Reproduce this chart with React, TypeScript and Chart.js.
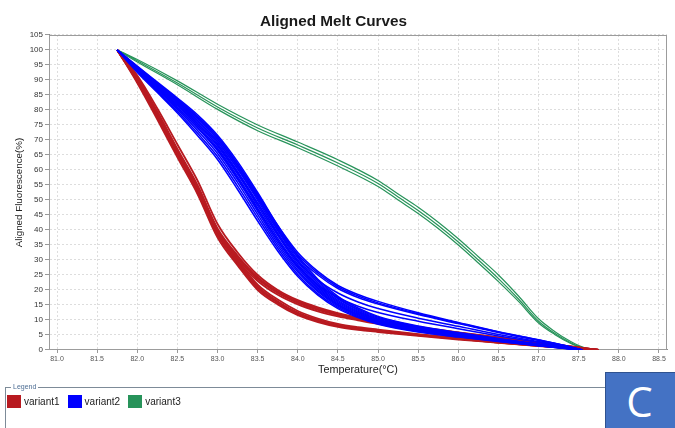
import React, { useEffect, useRef } from "react";
import { Chart, registerables } from "chart.js";

Chart.register(...registerables);

const chartTitle = "Aligned Melt Curves";
const xTitle = "Temperature(°C)";
const yTitle = "Aligned Fluorescence(%)";
const seriesNames = ["variant1", "variant2", "variant3"];
const seriesColors = ["#B81A20", "#0000FF", "#27935A"];

const xMin = 80.9;
const xMax = 88.6;
const xStep = 0.5;
const yMin = 0;
const yMax = 105;
const yStep = 5;

// variant1 (red)
const variant1Temps = [81.75, 82.0, 82.25, 82.5, 82.75, 83.0, 83.25, 83.5, 83.75, 84.0, 84.25, 84.5, 84.75, 85.0, 85.5, 86.0, 86.5, 87.0, 87.5, 87.75];
const variant1Curves = [
  [100, 91.5, 80.5, 68.5, 56.5, 42.0, 32.5, 25.0, 20.0, 16.6, 14.2, 12.3, 10.8, 9.6, 7.7, 5.9, 4.2, 2.5, 0.9, 0],
  [100, 91.0, 79.5, 67.0, 55.0, 40.5, 31.5, 24.3, 19.5, 16.2, 13.8, 12.0, 10.5, 9.3, 7.5, 5.8, 4.1, 2.4, 0.9, 0],
  [100, 90.5, 79.0, 66.5, 54.5, 40.0, 31.0, 24.0, 19.2, 15.9, 13.6, 11.8, 10.3, 9.1, 7.3, 5.7, 4.0, 2.3, 0.8, 0],
  [100, 90.0, 78.5, 66.0, 54.0, 39.5, 30.5, 23.6, 19.0, 15.7, 13.4, 11.6, 10.2, 9.0, 7.2, 5.6, 3.9, 2.3, 0.8, 0],
  [100, 89.5, 77.5, 65.0, 52.5, 38.5, 29.8, 23.0, 18.4, 15.2, 12.9, 11.2, 9.9, 8.7, 7.0, 5.4, 3.8, 2.2, 0.8, 0],
  [100, 90.5, 79.0, 66.5, 54.5, 40.0, 30.0, 21.8, 16.8, 13.0, 10.5, 8.7, 7.6, 6.8, 5.3, 4.0, 2.8, 1.6, 0.6, 0],
  [100, 90.0, 78.5, 65.8, 53.8, 39.2, 29.4, 21.2, 16.2, 12.5, 10.1, 8.3, 7.3, 6.5, 5.1, 3.8, 2.6, 1.5, 0.5, 0],
  [100, 89.8, 78.0, 65.4, 53.4, 38.8, 29.1, 20.9, 16.0, 12.2, 9.9, 8.1, 7.1, 6.3, 5.0, 3.7, 2.5, 1.4, 0.5, 0],
  [100, 89.5, 77.5, 65.0, 53.0, 38.4, 28.8, 20.6, 15.7, 12.0, 9.7, 8.0, 7.0, 6.2, 4.9, 3.7, 2.5, 1.4, 0.5, 0],
  [100, 89.0, 76.8, 64.2, 52.0, 37.5, 28.2, 20.0, 15.2, 11.6, 9.3, 7.7, 6.7, 6.0, 4.7, 3.5, 2.4, 1.3, 0.4, 0],
];

// variant2 (blue)
const variant2Temps = [81.75, 82.0, 82.25, 82.5, 82.75, 83.0, 83.25, 83.5, 83.75, 84.0, 84.25, 84.5, 84.75, 85.0, 85.5, 86.0, 86.5, 87.0, 87.3, 87.55];
const variant2Curves = [
  [100, 92.5, 85.8, 79.0, 71.5, 63.5, 53.5, 43.0, 33.0, 24.5, 18.3, 13.8, 10.8, 8.6, 6.0, 4.3, 2.8, 1.4, 0.6, 0],
  [100, 92.8, 86.2, 79.6, 72.3, 64.5, 54.6, 44.1, 33.9, 25.2, 18.8, 14.2, 11.1, 8.8, 6.2, 4.4, 2.9, 1.4, 0.6, 0],
  [100, 93.0, 86.6, 80.2, 73.2, 65.5, 55.8, 45.2, 34.8, 26.0, 19.4, 14.6, 11.4, 9.1, 6.4, 4.6, 3.0, 1.5, 0.7, 0],
  [100, 93.2, 87.0, 80.7, 74.0, 66.4, 56.8, 46.2, 35.6, 26.6, 19.8, 15.0, 11.7, 9.3, 6.6, 4.7, 3.1, 1.5, 0.7, 0],
  [100, 93.5, 87.4, 81.3, 74.8, 67.3, 57.8, 47.3, 36.5, 27.3, 20.3, 15.3, 12.0, 9.6, 6.8, 4.9, 3.2, 1.6, 0.7, 0],
  [100, 93.6, 87.7, 81.7, 75.4, 68.0, 58.6, 48.1, 37.3, 28.0, 20.8, 15.7, 12.3, 9.8, 7.0, 5.0, 3.3, 1.7, 0.7, 0],
  [100, 93.8, 88.0, 82.2, 76.0, 68.8, 59.5, 49.0, 38.2, 28.6, 21.3, 16.1, 12.6, 10.1, 7.2, 5.2, 3.4, 1.8, 0.8, 0],
  [100, 94.0, 88.3, 82.7, 76.6, 69.5, 60.4, 49.9, 39.0, 29.3, 21.8, 16.5, 12.9, 10.3, 7.4, 5.3, 3.5, 1.8, 0.8, 0],
  [100, 94.2, 88.7, 83.2, 77.3, 70.3, 61.3, 50.8, 39.8, 30.0, 22.4, 17.0, 13.3, 10.6, 7.6, 5.5, 3.6, 1.9, 0.8, 0],
  [100, 94.4, 89.0, 83.6, 77.8, 71.0, 62.0, 51.6, 40.6, 30.7, 23.0, 17.4, 13.6, 10.9, 7.8, 5.6, 3.7, 1.9, 0.8, 0],
  [100, 94.6, 89.3, 84.0, 78.4, 71.6, 62.8, 52.5, 41.5, 31.5, 23.6, 17.9, 14.0, 11.2, 8.0, 5.8, 3.8, 2.0, 0.9, 0],
  [100, 94.0, 88.3, 82.6, 76.5, 69.5, 60.5, 50.5, 40.0, 31.0, 25.0, 20.5, 17.5, 15.3, 11.8, 8.8, 5.8, 3.2, 1.6, 0],
  [100, 94.2, 88.6, 83.1, 77.2, 70.2, 61.2, 51.2, 40.8, 31.8, 25.6, 21.0, 18.0, 15.7, 12.1, 9.0, 6.0, 3.3, 1.6, 0],
  [100, 94.4, 89.0, 83.6, 77.8, 71.0, 62.0, 52.0, 41.5, 32.5, 26.2, 21.5, 18.5, 16.2, 12.4, 9.2, 6.1, 3.4, 1.7, 0],
  [100, 93.6, 87.7, 81.8, 75.5, 68.3, 59.0, 48.8, 38.5, 29.5, 23.3, 19.0, 16.0, 13.8, 10.6, 7.9, 5.2, 2.8, 1.4, 0],
  [100, 93.2, 87.0, 80.8, 74.3, 66.8, 57.2, 46.8, 36.5, 27.8, 21.7, 17.5, 14.6, 12.5, 9.6, 7.1, 4.7, 2.5, 1.2, 0],
];

// variant3 (green)
const variant3Temps = [81.75, 82.0, 82.5, 83.0, 83.5, 84.0, 84.5, 85.0, 85.25, 85.5, 85.75, 86.0, 86.25, 86.5, 86.75, 87.0, 87.2, 87.4, 87.5, 87.65];
const variant3Curves = [
  [100, 96.8, 89.7, 81.9, 75.0, 69.3, 63.4, 56.5, 52.0, 47.6, 42.6, 37.1, 31.1, 25.0, 18.0, 10.4, 6.2, 2.8, 1.5, 0],
  [100, 96.4, 89.0, 81.0, 74.0, 68.3, 62.3, 55.5, 51.0, 46.5, 41.5, 36.0, 30.0, 23.8, 17.0, 9.6, 5.6, 2.4, 1.2, 0],
  [100, 96.0, 88.4, 80.2, 73.1, 67.4, 61.3, 54.5, 50.0, 45.5, 40.5, 35.0, 29.0, 22.8, 16.2, 9.0, 5.2, 2.2, 1.1, 0],
];

const FONT = "'Liberation Sans', Arial, sans-serif";

function makeSets(temps: number[], curves: number[][], name: string, color: string, width: number) {
  return curves.map((c) => ({
    label: name,
    data: temps.map((t, i) => ({ x: t, y: c[i] })),
    borderColor: color,
    backgroundColor: color,
    borderWidth: width,
    pointRadius: 0,
    fill: false,
    cubicInterpolationMode: "monotone" as const,
  }));
}

const framePlugin = {
  id: "plotFrame",
  beforeDatasetsDraw(chart: any) {
    const { ctx, chartArea: a } = chart;
    ctx.save();
    ctx.strokeStyle = "#9c9c9c";
    ctx.lineWidth = 1;
    ctx.strokeRect(Math.round(a.left) + 0.5, Math.round(a.top) + 0.5, Math.round(a.width) - 1, Math.round(a.height) - 1);
    ctx.restore();
  },
};

export default function App() {
  const ref = useRef<HTMLCanvasElement>(null);

  useEffect(() => {
    document.body.style.margin = "0";
    const canvas = ref.current;
    if (!canvas) return;
    const datasets = [
      ...makeSets(variant2Temps, variant2Curves, seriesNames[1], seriesColors[1], 1.5),
      ...makeSets(variant1Temps, variant1Curves, seriesNames[0], seriesColors[0], 1.8),
      ...makeSets(variant3Temps, variant3Curves, seriesNames[2], seriesColors[2], 1.2),
    ];
    const chart = new Chart(canvas, {
      type: "line",
      data: { datasets },
      plugins: [framePlugin],
      options: {
        responsive: true,
        maintainAspectRatio: false,
        animation: false,
        layout: { padding: { left: 0, right: 8, top: 0, bottom: 0 } },
        plugins: {
          legend: { display: false },
          tooltip: { enabled: false },
          title: {
            display: true,
            text: chartTitle,
            color: "#1a1a1a",
            font: { family: FONT, size: 15.3, weight: "bold", lineHeight: 1.2 },
            padding: { top: 13, bottom: 3.6 },
          },
        },
        scales: {
          x: {
            type: "linear",
            min: xMin,
            max: xMax,
            afterFit: (s: any) => {
              s.height = 35;
            },
            ticks: {
              stepSize: xStep,
              includeBounds: false,
              autoSkip: false,
              maxRotation: 0,
              minRotation: 0,
              padding: 2,
              color: "#555",
              font: { family: FONT, size: 7 },
              callback: (v: any) => Number(v).toFixed(1),
            },
            grid: { color: "#dddddd", tickLength: 3, tickColor: "#999" },
            border: { color: "#8a8a8a", dash: [2, 2] },
            title: {
              display: true,
              text: xTitle,
              color: "#222",
              font: { family: FONT, size: 10.8 },
              padding: { top: 0, bottom: 8.5 },
            },
          },
          y: {
            type: "linear",
            min: yMin,
            max: yMax,
            afterFit: (s: any) => {
              s.width = 49;
            },
            ticks: {
              stepSize: yStep,
              autoSkip: false,
              padding: 2,
              color: "#333",
              font: { family: FONT, size: 8 },
            },
            grid: { color: "#dddddd", tickLength: 4, tickColor: "#999" },
            border: { color: "#8a8a8a", dash: [2, 2] },
            title: {
              display: true,
              text: yTitle,
              color: "#222",
              font: { family: FONT, size: 9.8 },
              padding: { top: 13.5, bottom: 0 },
            },
          },
        },
      } as any,
    });
    return () => chart.destroy();
  }, []);

  return (
    <div style={{ position: "absolute", left: 0, top: 0, width: 675, height: 428, overflow: "hidden", background: "#fff", fontFamily: FONT }}>
      <div style={{ position: "absolute", left: 0, top: 0, width: 675, height: 385 }}>
        <canvas ref={ref} />
      </div>
      <div style={{ position: "absolute", left: 5, top: 387, width: 680, height: 50, borderTop: "1.5px solid #7d8b98", borderLeft: "1.5px solid #7d8b98" }} />
      <div style={{ position: "absolute", left: 11, top: 382, fontSize: 7, lineHeight: "9px", color: "#4f6f95", background: "#fff", padding: "0 2px" }}>Legend</div>
      <div style={{ position: "absolute", left: 7, top: 395, display: "flex", alignItems: "center", fontSize: 10, color: "#222" }}>
        {seriesNames.map((n, i) => (
          <div key={n} style={{ display: "flex", alignItems: "center", marginRight: 8 }}>
            <span style={{ display: "inline-block", width: 14, height: 13, background: seriesColors[i], marginRight: 3 }} />
            <span>{n}</span>
          </div>
        ))}
      </div>
      <div style={{ position: "absolute", left: 605, top: 372, width: 72, height: 60, background: "#4472C4", borderLeft: "1px solid #2F528F", borderTop: "1px solid #2F528F", color: "#fff", fontFamily: "'Open Sans', sans-serif", fontSize: 42, lineHeight: "56px", textAlign: "center", boxSizing: "border-box" }}>
        <span style={{ position: "relative", left: -2 }}>C</span>
      </div>
    </div>
  );
}
